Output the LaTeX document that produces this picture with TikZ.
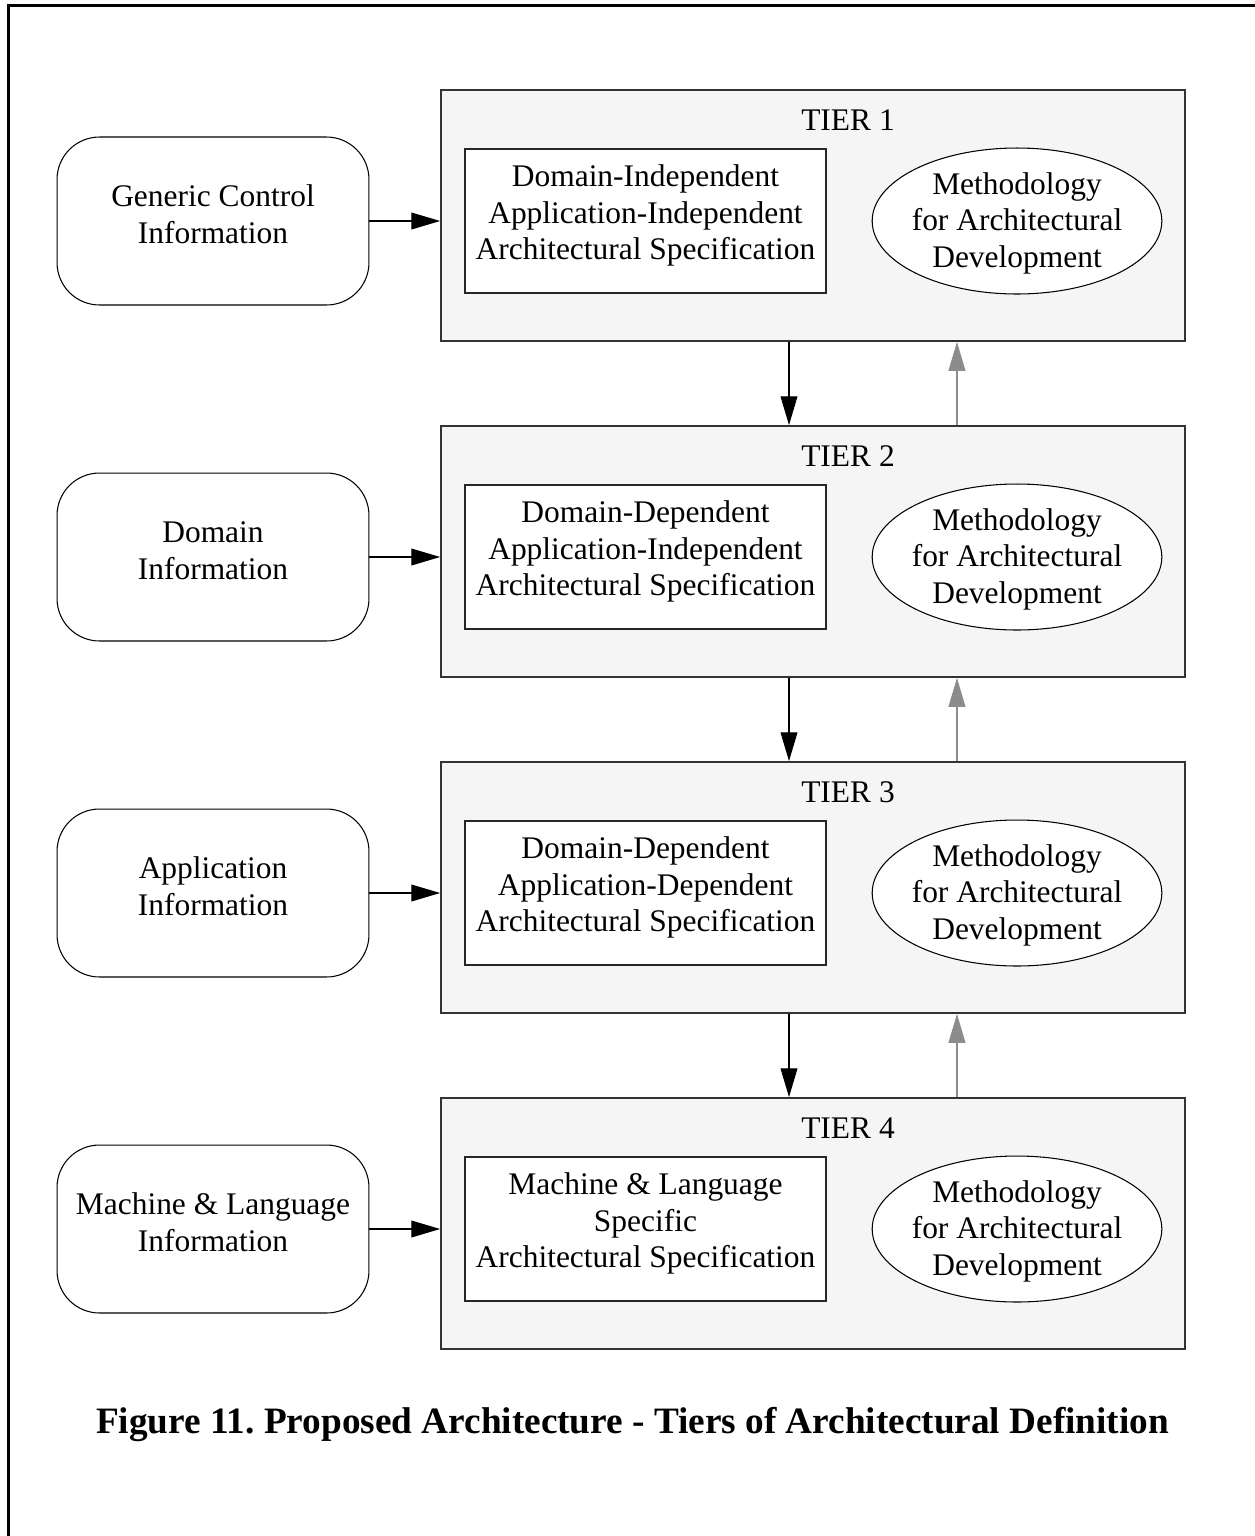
\documentclass[tikz,border=0pt]{standalone}
\usepackage{fontspec}
\setmainfont{Liberation Serif}
\usetikzlibrary{positioning,arrows.meta,calc,shapes.geometric}

\tikzset{
  tierbox/.style={draw=black!80, line width=1.1pt, fill=black!4,
    minimum width=14.88cm, minimum height=5.02cm, inner sep=0pt},
  specbox/.style={draw=black!85, line width=0.9pt, fill=white, align=center,
    text height=53.9pt, text depth=9.6pt,
    minimum width=7.22cm, minimum height=2.88cm, inner sep=0pt},
  methnode/.style={draw, ellipse, line width=0.6pt, fill=white, align=center,
    text height=53.9pt, text depth=0.6pt,
    minimum width=5.78cm, minimum height=2.92cm, inner xsep=-1.6pt, inner ysep=0pt},
  infobox/.style={draw, rounded corners=0.85cm, line width=0.6pt, align=center,
    text height=33.4pt, text depth=7.4pt,
    minimum width=6.24cm, minimum height=3.36cm, inner sep=0pt},
  feed/.style={-{Triangle[length=16.4pt,width=9.6pt]}, line width=0.6pt},
  back/.style={feed, color=black!45}
}

\begin{document}
\begin{tikzpicture}[x=0.02cm,y=-0.02cm,font=\fontsize{17.9}{21}\selectfont]
\useasboundingbox (0,0) rectangle (1255,1536);
% page frame
\draw[line width=1.4pt] (8.7,1536) -- (8.7,5.5) -- (1255,5.5);
% the four tiers
\foreach \i/\info/\spec in {
  1/{Generic Control\\Information}/{Domain-Independent\\Application-Independent\\Architectural Specification},
  2/{Domain\\Information}/{Domain-Dependent\\Application-Independent\\Architectural Specification},
  3/{Application\\Information}/{Domain-Dependent\\Application-Dependent\\Architectural Specification},
  4/{Machine \& Language\\Information}/{Machine \& Language\\Specific\\Architectural Specification}} {
  \pgfmathsetmacro\ty{215.5+336*(\i-1)}
  \node[tierbox] (tier\i) at (813,\ty) {};
  \node[anchor=base] (lab\i) at (848,\ty-85.5) {TIER \i};
  \node[specbox] (spec\i) at (645.5,\ty+5.5) {\spec};
  \node[methnode] (meth\i) at (1017,\ty+5.5) {Methodology\\for Architectural\\Development};
  \node[infobox] (info\i) at (213,\ty+5.5) {\info};
  \draw[feed] (info\i.east) -- (info\i.east -| tier\i.west);
}
% links between tiers
\foreach \i/\j in {1/2,2/3,3/4} {
  \draw[feed] ([xshift=-0.48cm]tier\i.south) -- ([xshift=-0.48cm]tier\j.north);
  \draw[back] ([xshift=2.88cm]tier\j.north) -- ([xshift=2.88cm]tier\i.south);
}
\node[anchor=base, font=\fontsize{21.2}{25}\selectfont\bfseries] (caption) at (632.5,1433)
  {Figure 11.\ Proposed Architecture - Tiers of Architectural Definition};
\end{tikzpicture}
\end{document}
